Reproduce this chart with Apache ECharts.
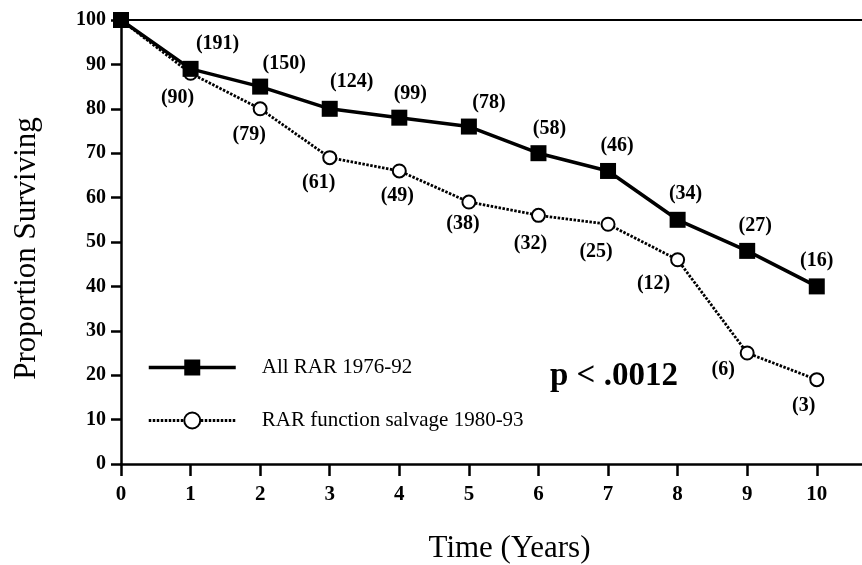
<!DOCTYPE html>
<html><head><meta charset="utf-8">
<script src="https://cdn.jsdelivr.net/npm/echarts@6/dist/echarts.min.js"></script>
<style>html,body{margin:0;padding:0;background:#fff}#c{width:862px;height:565px}</style>
</head><body><div id="c"></div>
<script>
// ---- data ----
const YEARS = [0, 1, 2, 3, 4, 5, 6, 7, 8, 9, 10];
const ALL_RAR = [100, 89, 85, 80, 78, 76, 70, 66, 55, 48, 40];
const SALVAGE = [100, 88, 80, 69, 66, 59, 56, 54, 46, 25, 19];
const ALL_RAR_N = [null, 191, 150, 124, 99, 78, 58, 46, 34, 27, 16];
const SALVAGE_N = [null, 90, 79, 61, 49, 38, 32, 25, 12, 6, 3];
const X_TICKS = [0, 1, 2, 3, 4, 5, 6, 7, 8, 9, 10];
const SERIES_NAMES = ['All RAR 1976-92', 'RAR function salvage 1980-93'];
const X_TITLE = 'Time (Years)';
const Y_TITLE = 'Proportion Surviving';
const P_TEXT = 'p < .0012';

// ---- label placement (style only) ----
const ALL_RAR_LABEL_OFFSET = [null, [27,-25], [24,-23], [22,-27], [11,-24], [20,-24], [11,-24], [9,-25], [8,-26], [8,-25], [0,-26]];
const SALVAGE_LABEL_OFFSET = [null, [-13,25], [-11,26], [-11,25], [-2,25], [-6,22], [-8,28], [-12,28], [-24,24], [-24,17], [-13,26]];

const FONT = '"Liberation Serif", "Times New Roman", serif';

function buildData(values, counts, offsets) {
  return YEARS.map((x, i) => {
    const item = { value: [x, values[i]] };
    if (counts[i] != null) {
      item.label = { show: true, formatter: '(' + counts[i] + ')', offset: offsets[i] };
    } else {
      item.label = { show: false };
    }
    return item;
  });
}

const chart = echarts.init(document.getElementById('c'), null, { renderer: 'canvas' });
const labelStyle = { show: true, position: 'inside', color: '#000', fontFamily: FONT, fontSize: 20, fontWeight: 'bold' };
const SOLID = { color: '#000', width: 3.5 };
const DOTTED = { color: '#000', width: 2.8, type: [2.5, 1.5] };

chart.setOption({
  animation: false,
  backgroundColor: '#fff',
  grid: { left: 121, top: 20, right: 0, bottom: 101 },
  xAxis: [{
    type: 'value', min: 0, max: 10.65,
    axisLine: { show: true, lineStyle: { color: '#000', width: 2.5 } },
    axisTick: { show: true, length: 12, inside: false, customValues: X_TICKS, lineStyle: { color: '#000', width: 2.5 } },
    axisLabel: { customValues: X_TICKS, margin: 20, color: '#000', fontFamily: FONT, fontSize: 21, fontWeight: 'bold' },
    splitLine: { show: false }
  }, {
    type: 'value', min: 0, max: 10.65, position: 'top',
    axisLine: { show: true, onZero: false, lineStyle: { color: '#000', width: 2 } },
    axisTick: { show: false }, axisLabel: { show: false }, splitLine: { show: false }
  }],
  yAxis: {
    type: 'value', min: 0, max: 100, interval: 10,
    axisLine: { show: true, lineStyle: { color: '#000', width: 2.5 } },
    axisTick: { show: true, length: 10, lineStyle: { color: '#000', width: 2.5 } },
    axisLabel: { margin: 15, color: '#000', fontFamily: FONT, fontSize: 20, fontWeight: 'bold' },
    splitLine: { show: false }
  },
  legend: {
    data: [
      { name: SERIES_NAMES[0], lineStyle: SOLID },
      { name: SERIES_NAMES[1], lineStyle: DOTTED }
    ],
    orient: 'vertical', left: 147, top: 357, padding: 0,
    itemWidth: 87, itemHeight: 20, itemGap: 32, selectedMode: false,
    textStyle: { color: '#000', fontFamily: FONT, fontSize: 21, padding: [0, 0, 0, 21] }
  },
  series: [{
    name: SERIES_NAMES[0], type: 'line', z: 3,
    data: buildData(ALL_RAR, ALL_RAR_N, ALL_RAR_LABEL_OFFSET),
    symbol: 'rect', symbolSize: 16,
    itemStyle: { color: '#000' },
    lineStyle: SOLID,
    label: labelStyle
  }, {
    name: SERIES_NAMES[1], type: 'line', z: 2,
    data: buildData(SALVAGE, SALVAGE_N, SALVAGE_LABEL_OFFSET),
    symbol: 'emptyCircle', symbolSize: 13,
    itemStyle: { color: '#000', borderWidth: 2.5 },
    lineStyle: DOTTED,
    label: labelStyle
  }],
  graphic: [{
    type: 'text', x: 27, y: 248.5, rotation: Math.PI / 2,
    style: { text: Y_TITLE, fill: '#000', font: '31px ' + FONT, align: 'center', verticalAlign: 'middle' }
  }, {
    type: 'text', x: 509.5, y: 549,
    style: { text: X_TITLE, fill: '#000', font: '31px ' + FONT, align: 'center', verticalAlign: 'middle' }
  }, {
    type: 'text', x: 550, y: 376,
    style: { text: P_TEXT, fill: '#000', font: 'bold 33px ' + FONT, align: 'left', verticalAlign: 'middle' }
  }]
});
</script>
</body></html>
